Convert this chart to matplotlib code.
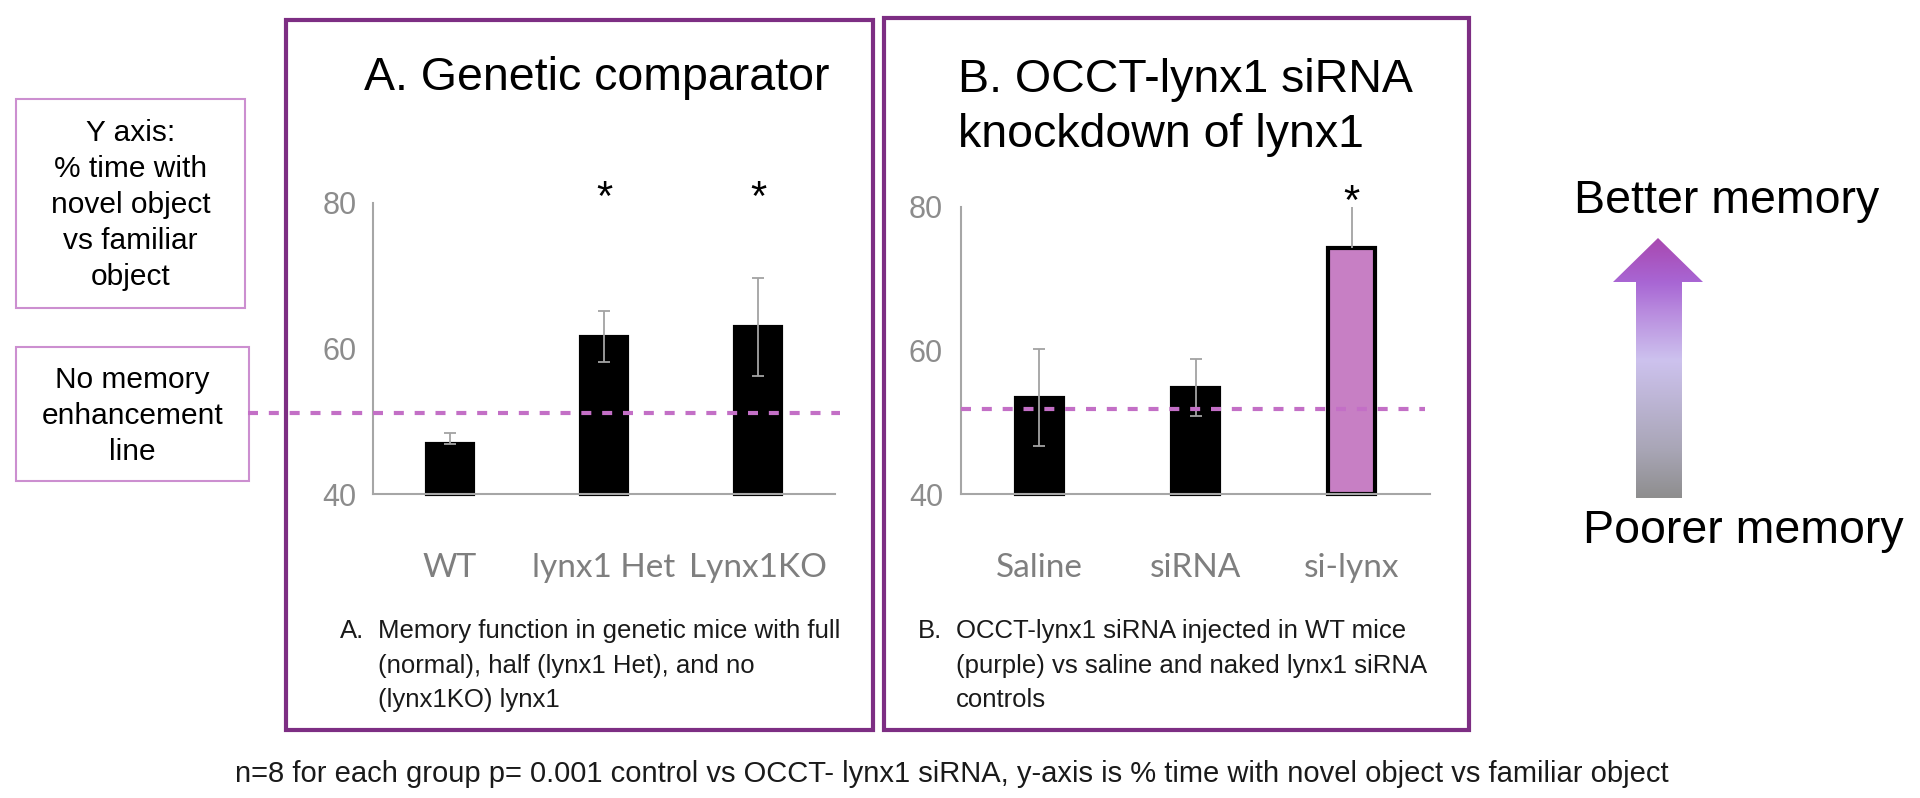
import numpy as np
import matplotlib
matplotlib.use('Agg')
import matplotlib.pyplot as plt
from matplotlib.patches import Rectangle, Polygon
from matplotlib.colors import LinearSegmentedColormap

# panel A: genetic comparator
groups_a = ['WT', 'lynx1 Het', 'Lynx1KO']
means_a = [46.9, 61.6, 63.0]
err_lo_a = [0.0, 3.5, 6.8]
err_hi_a = [1.5, 3.6, 6.7]
stars_a = [False, True, True]
no_memory_a = 51.1

# panel B: siRNA knockdown
groups_b = ['Saline', 'siRNA', 'si-lynx']
means_b = [53.4, 54.8, 74.3]
err_lo_b = [6.7, 3.9, 0.0]
err_hi_b = [6.8, 4.0, 5.7]
stars_b = [False, False, True]
no_memory_b = 51.8

y_ticks = [40, 60, 80]

title_a = 'A. Genetic comparator'
title_b = ['B. OCCT-lynx1 siRNA', 'knockdown of lynx1']
caption_a = ['Memory function in genetic mice with full',
             '(normal), half (lynx1 Het), and no',
             '(lynx1KO) lynx1']
caption_b = ['OCCT-lynx1 siRNA injected in WT mice',
             '(purple) vs saline and naked lynx1 siRNA',
             'controls']
yaxis_note = ['Y axis:', '% time with', 'novel object', 'vs familiar', 'object']
line_note = ['No memory', 'enhancement', 'line']
footnote = ('n=8 for each group p= 0.001 control vs OCCT- lynx1 siRNA, '
            'y-axis is % time with novel object vs familiar object')

W, H = 1920, 798
SANS = ['Liberation Sans', 'DejaVu Sans']
LABEL = ['Lato', 'DejaVu Sans']
PURPLE = '#7d2e83'
LIGHT_PURPLE = '#cc8fd0'
DASH = '#c36fc6'
PINK = '#c77fc4'
AXIS_GRAY = '#a6a6a6'

fig = plt.figure(figsize=(W / 100, H / 100), dpi=100)
fig.patch.set_facecolor('white')

# overlay in pixel coordinates for boxes, notes and the arrow
ov = fig.add_axes([0, 0, 1, 1])
ov.set_xlim(0, W)
ov.set_ylim(H, 0)
ov.axis('off')


def frac(left, top, right, bottom):
    return [left / W, 1 - bottom / H, (right - left) / W, (bottom - top) / H]


def panel(rect, groups, means, lo, hi, stars, colors, edges, caps, pad_y):
    ax = fig.add_axes(rect)
    ax.set_facecolor('none')
    x = np.arange(len(groups))
    bars = ax.bar(x, np.array(means) - 40, bottom=40, width=0.3,
                  color=colors, edgecolor=edges, linewidth=3, zorder=2)
    for b in bars:
        b.set_clip_on(False)
    for i in x:
        ax.errorbar(x[i], means[i], yerr=[[lo[i]], [hi[i]]], fmt='none',
                    ecolor='#a3a3a3', elinewidth=1.3, capsize=caps[i],
                    capthick=1.3, zorder=3)
        if stars[i]:
            ax.annotate('*', xy=(x[i], 80), xytext=(0, -5),
                        textcoords='offset points', ha='center',
                        va='baseline', fontsize=30, family=SANS,
                        annotation_clip=False)
    ax.set_xlim(-0.5, len(groups) - 0.5)
    ax.set_ylim(40, 80)
    ax.set_yticks(y_ticks)
    ax.set_xticks(x)
    ax.set_xticklabels(groups, family=LABEL, fontsize=24, color='#7f7f7f')
    for t in ax.get_xticklabels():
        t.set_va('baseline')
    ax.set_yticklabels([str(v) for v in y_ticks], family=SANS,
                       fontsize=22, color='#8c8c8c')
    ax.tick_params(axis='x', length=0, pad=60)
    ax.tick_params(axis='y', length=0, pad=pad_y)
    for s in ['top', 'right']:
        ax.spines[s].set_visible(False)
    for s in ['left', 'bottom']:
        ax.spines[s].set_color(AXIS_GRAY)
        ax.spines[s].set_linewidth(1.5)
    return ax


ax_a = panel(frac(373, 203, 835, 494), groups_a, means_a, err_lo_a, err_hi_a,
             stars_a, 'black', 'black', [4, 4, 4], 12)
ax_b = panel(frac(961, 207, 1430, 494), groups_b, means_b, err_lo_b, err_hi_b,
             stars_b, ['black', 'black', PINK], 'black', [4, 4, 0], 13)

dash_style = (0, (2.4, 2.6))
ax_a.axhline(no_memory_a, xmin=-0.27, xmax=1.01, color=DASH, lw=3,
             ls=dash_style, clip_on=False, zorder=4)
ax_b.axhline(no_memory_b, xmin=0.0, xmax=0.99, color=DASH, lw=3,
             ls=dash_style, clip_on=False, zorder=4)

# panel frames
for (l, t, r, b) in [(286, 20, 873, 730), (884, 18, 1469, 730)]:
    ov.add_patch(Rectangle((l, t), r - l, b - t, fill=False,
                           edgecolor=PURPLE, lw=3))

# titles
ov.text(364, 90, title_a, fontsize=33.5, family=SANS, va='baseline')
for k, line in enumerate(title_b):
    ov.text(958, 92 + 55 * k, line, fontsize=33.5, family=SANS, va='baseline')

# captions under the panels
for tag, x0, lines in [('A.', 340, caption_a), ('B.', 918, caption_b)]:
    ov.text(x0, 638, tag, fontsize=18.5, family=SANS, va='baseline',
            color='#1a1a1a')
    for k, line in enumerate(lines):
        ov.text(x0 + 38, 638 + 34.5 * k, line, fontsize=18.5, family=SANS,
                va='baseline', color='#1a1a1a')

ov.text(235, 782, footnote, fontsize=21, family=SANS, va='baseline',
        color='#1a1a1a')

# note boxes on the left
for (l, t, r, b), lines, y0 in [((16, 99, 245, 308), yaxis_note, 133),
                                ((16, 347, 249, 481), line_note, 380)]:
    ov.add_patch(Rectangle((l, t), r - l, b - t, fill=False,
                           edgecolor=LIGHT_PURPLE, lw=1.5))
    for k, line in enumerate(lines):
        ov.text((l + r) / 2, y0 + 36 * k, line, fontsize=21.5, family=SANS,
                ha='center', va='center')

# memory arrow with gradient
ov.text(1727, 213, 'Better memory', fontsize=33.5, family=SANS,
        ha='center', va='baseline')
ov.text(1743, 543, 'Poorer memory', fontsize=33.5, family=SANS,
        ha='center', va='baseline')
arrow = Polygon([(1636, 498), (1636, 282), (1613, 282), (1658, 238),
                 (1703, 282), (1682, 282), (1682, 498)], closed=True,
                facecolor='none', edgecolor='none')
ov.add_patch(arrow)
cmap = LinearSegmentedColormap.from_list(
    'memory', [(0, '#8e8e8e'), (0.18, '#a8a5b5'), (0.53, '#cdc2ee'),
               (0.72, '#b88ade'), (0.83, '#a866d4'), (1, '#a848b0')])
grad = np.linspace(0, 1, 256).reshape(-1, 1)
im = ov.imshow(grad, extent=(1613, 1703, 498, 238), cmap=cmap,
               origin='lower', aspect='auto', interpolation='bilinear')
im.set_clip_path(arrow)
ov.set_xlim(0, W)
ov.set_ylim(H, 0)

fig.savefig('out.png', dpi=100, facecolor='white')
